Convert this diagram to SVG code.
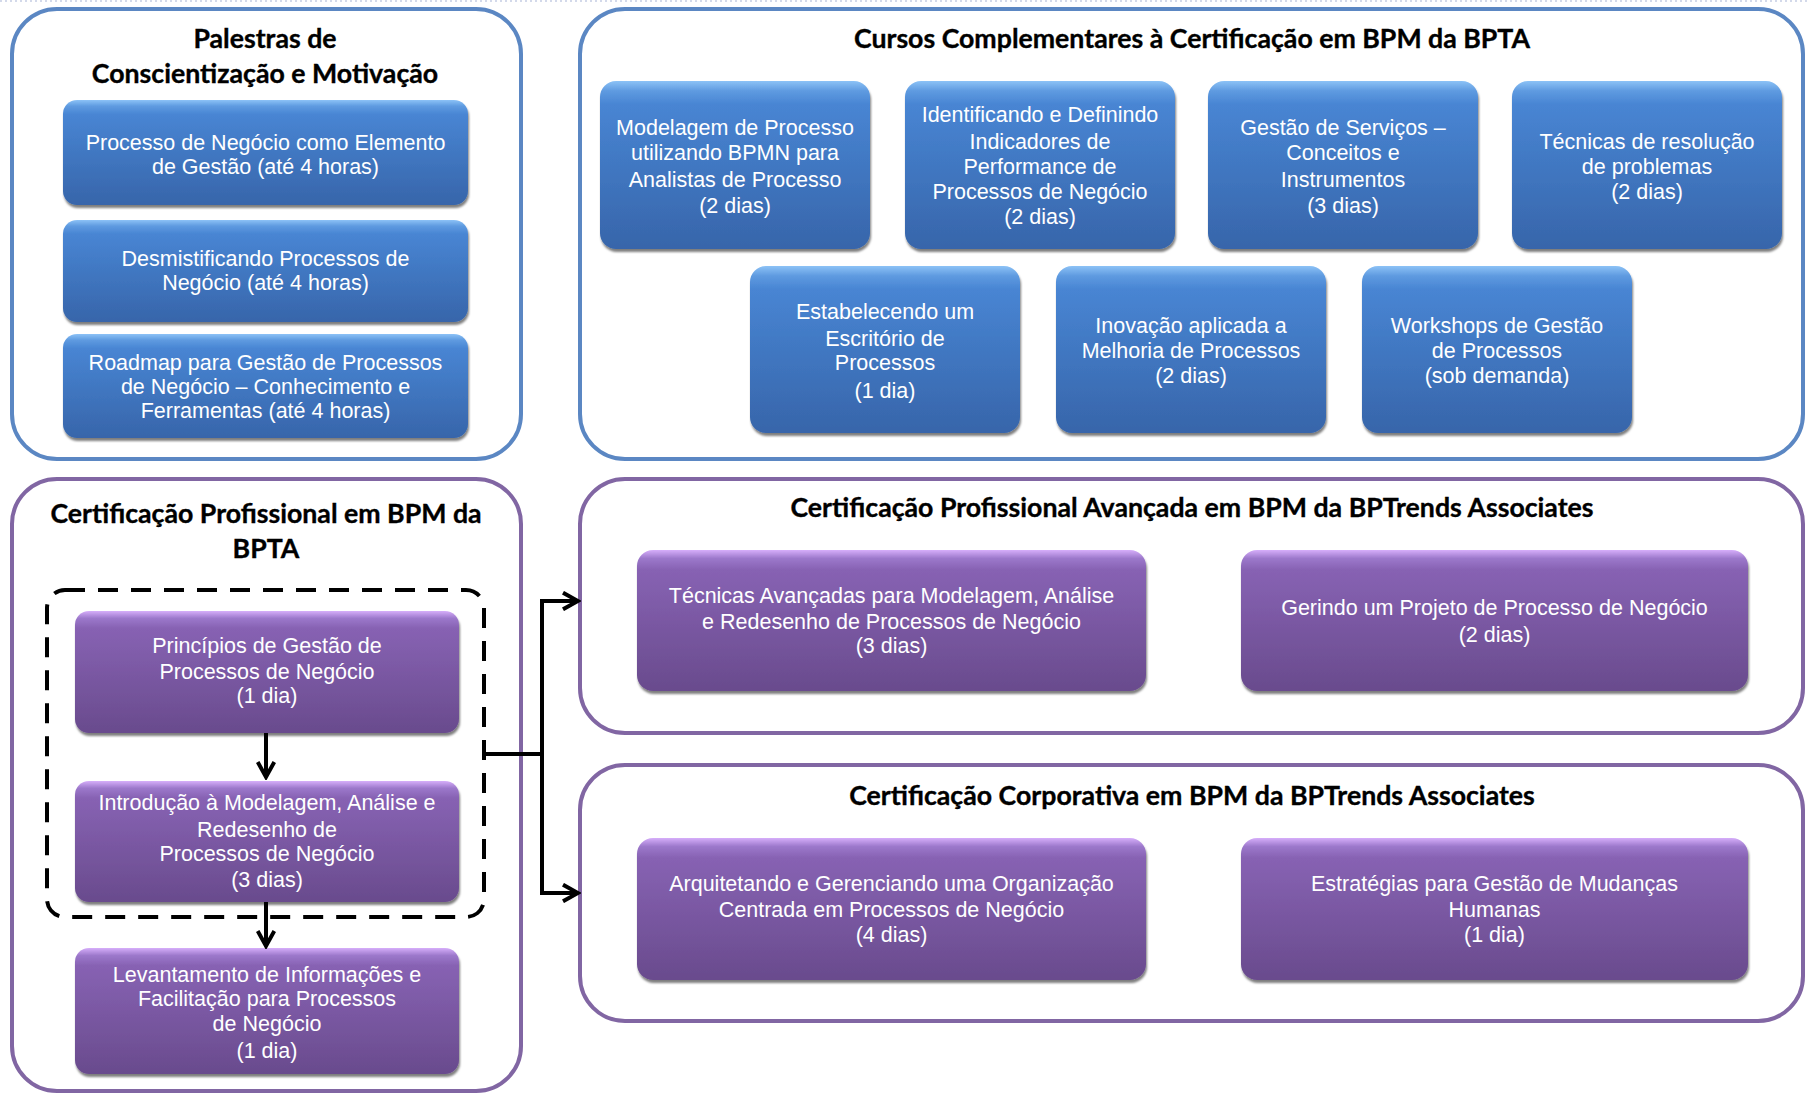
<svg xmlns="http://www.w3.org/2000/svg" width="1807" height="1096" viewBox="0 0 1807 1096">
<defs>
<linearGradient id="gB" x1="0" y1="0" x2="0" y2="1">
<stop offset="0" stop-color="#8cc2f6"/>
<stop offset="0.06" stop-color="#5e9ae0"/>
<stop offset="0.14" stop-color="#4885d3"/>
<stop offset="1" stop-color="#3765aa"/>
</linearGradient>
<linearGradient id="gP" x1="0" y1="0" x2="0" y2="1">
<stop offset="0" stop-color="#d6aefa"/>
<stop offset="0.06" stop-color="#9c78cb"/>
<stop offset="0.14" stop-color="#8762b3"/>
<stop offset="1" stop-color="#694b8d"/>
</linearGradient>
<filter id="sh" x="-5%" y="-5%" width="110%" height="120%">
<feDropShadow dx="1" dy="3" stdDeviation="1.2" flood-color="#000" flood-opacity="0.5"/>
</filter>
<marker id="arr" viewBox="0 0 12 12" refX="10.5" refY="6" markerWidth="20" markerHeight="20" orient="auto" markerUnits="userSpaceOnUse">
<path d="M1.5,1 L10.5,6 L1.5,11" fill="none" stroke="#000" stroke-width="2.4"/>
</marker>
</defs>
<style>
.ob{fill:#fff;stroke:#5b87c3;stroke-width:4}
.op{fill:#fff;stroke:#8166a3;stroke-width:4}
.bb{fill:url(#gB);filter:url(#sh)}
.pb{fill:url(#gP);filter:url(#sh)}
.ti{font-family:Lato,"Open Sans",sans-serif;font-weight:700;font-size:26.7px;fill:#000;stroke:#000;stroke-width:0.35;text-anchor:middle}
.tx{font-family:"Liberation Sans",Arial,sans-serif;font-size:21.5px;fill:#fff;text-anchor:middle}
.cn{fill:none;stroke:#000;stroke-width:4}
</style>
<line x1="0" y1="1" x2="1807" y2="1" stroke="#c5cde3" stroke-width="1.5" stroke-dasharray="2 3"/>

<g id="palestras">
<rect class="ob" x="12" y="9" width="509" height="450" rx="45"/>
<text class="ti" x="265" y="48">Palestras de</text>
<text class="ti" x="265" y="83">Conscientização e Motivação</text>
</g>
<g id="p1"><rect class="bb" x="63" y="100" width="405" height="105" rx="14"/>
<text class="tx" x="265.5" y="150">Processo de Negócio como Elemento</text>
<text class="tx" x="265.5" y="174">de Gestão (até 4 horas)</text></g>
<g id="p2"><rect class="bb" x="63" y="220" width="405" height="102" rx="14"/>
<text class="tx" x="265.5" y="266">Desmistificando Processos de</text>
<text class="tx" x="265.5" y="290">Negócio (até 4 horas)</text></g>
<g id="p3"><rect class="bb" x="63" y="334" width="405" height="104" rx="14"/>
<text class="tx" x="265.5" y="370">Roadmap para Gestão de Processos</text>
<text class="tx" x="265.5" y="394">de Negócio – Conhecimento e</text>
<text class="tx" x="265.5" y="418">Ferramentas (até 4 horas)</text></g>

<g id="cursos">
<rect class="ob" x="580" y="9" width="1223" height="450" rx="45"/>
<text class="ti" x="1192" y="48">Cursos Complementares à Certificação em BPM da BPTA</text>
</g>
<g id="c1"><rect class="bb" x="600" y="81" width="270" height="168" rx="16"/>
<text class="tx" x="735" y="135">Modelagem de Processo</text>
<text class="tx" x="735" y="160">utilizando BPMN para</text>
<text class="tx" x="735" y="187">Analistas de Processo</text>
<text class="tx" x="735" y="213">(2 dias)</text></g>
<g id="c2"><rect class="bb" x="905" y="81" width="270" height="168" rx="16"/>
<text class="tx" x="1040" y="122">Identificando e Definindo</text>
<text class="tx" x="1040" y="149">Indicadores de</text>
<text class="tx" x="1040" y="174">Performance de</text>
<text class="tx" x="1040" y="199">Processos de Negócio</text>
<text class="tx" x="1040" y="224">(2 dias)</text></g>
<g id="c3"><rect class="bb" x="1208" y="81" width="270" height="168" rx="16"/>
<text class="tx" x="1343" y="135">Gestão de Serviços –</text>
<text class="tx" x="1343" y="160">Conceitos e</text>
<text class="tx" x="1343" y="187">Instrumentos</text>
<text class="tx" x="1343" y="213">(3 dias)</text></g>
<g id="c4"><rect class="bb" x="1512" y="81" width="270" height="168" rx="16"/>
<text class="tx" x="1647" y="149">Técnicas de resolução</text>
<text class="tx" x="1647" y="174">de problemas</text>
<text class="tx" x="1647" y="199">(2 dias)</text></g>
<g id="c5"><rect class="bb" x="750" y="266" width="270" height="167" rx="16"/>
<text class="tx" x="885" y="319">Estabelecendo um</text>
<text class="tx" x="885" y="346">Escritório de</text>
<text class="tx" x="885" y="370">Processos</text>
<text class="tx" x="885" y="398">(1 dia)</text></g>
<g id="c6"><rect class="bb" x="1056" y="266" width="270" height="167" rx="16"/>
<text class="tx" x="1191" y="333">Inovação aplicada a</text>
<text class="tx" x="1191" y="358">Melhoria de Processos</text>
<text class="tx" x="1191" y="383">(2 dias)</text></g>
<g id="c7"><rect class="bb" x="1362" y="266" width="270" height="167" rx="16"/>
<text class="tx" x="1497" y="333">Workshops de Gestão</text>
<text class="tx" x="1497" y="358">de Processos</text>
<text class="tx" x="1497" y="383">(sob demanda)</text></g>

<g id="certprof">
<rect class="op" x="12" y="479" width="509" height="612" rx="45"/>
<text class="ti" x="266" y="523">Certificação Profissional em BPM da</text>
<text class="ti" x="266" y="558">BPTA</text>
<rect x="47" y="590" width="437" height="327" rx="18" fill="none" stroke="#000" stroke-width="4" stroke-dasharray="20 13"/>
</g>
<g id="f1"><rect class="pb" x="75" y="611" width="384" height="122" rx="14"/>
<text class="tx" x="267" y="653">Princípios de Gestão de</text>
<text class="tx" x="267" y="679">Processos de Negócio</text>
<text class="tx" x="267" y="703">(1 dia)</text></g>
<g id="f2"><rect class="pb" x="75" y="781" width="384" height="121" rx="14"/>
<text class="tx" x="267" y="810">Introdução à Modelagem, Análise e</text>
<text class="tx" x="267" y="837">Redesenho de</text>
<text class="tx" x="267" y="861">Processos de Negócio</text>
<text class="tx" x="267" y="887">(3 dias)</text></g>
<g id="f3"><rect class="pb" x="75" y="948" width="384" height="126" rx="14"/>
<text class="tx" x="267" y="982">Levantamento de Informações e</text>
<text class="tx" x="267" y="1006">Facilitação para Processos</text>
<text class="tx" x="267" y="1031">de Negócio</text>
<text class="tx" x="267" y="1058">(1 dia)</text></g>

<g id="avancada">
<rect class="op" x="580" y="479" width="1223" height="254" rx="45"/>
<text class="ti" x="1192" y="517">Certificação Profissional Avançada em BPM da BPTrends Associates</text>
</g>
<g id="a1"><rect class="pb" x="637" y="550" width="509" height="141" rx="16"/>
<text class="tx" x="891.5" y="603">Técnicas Avançadas para Modelagem, Análise</text>
<text class="tx" x="891.5" y="629">e Redesenho de Processos de Negócio</text>
<text class="tx" x="891.5" y="653">(3 dias)</text></g>
<g id="a2"><rect class="pb" x="1241" y="550" width="507" height="141" rx="16"/>
<text class="tx" x="1494.5" y="615">Gerindo um Projeto de Processo de Negócio</text>
<text class="tx" x="1494.5" y="642">(2 dias)</text></g>

<g id="corporativa">
<rect class="op" x="580" y="765" width="1223" height="256" rx="45"/>
<text class="ti" x="1192" y="805">Certificação Corporativa em BPM da BPTrends Associates</text>
</g>
<g id="k1"><rect class="pb" x="637" y="838" width="509" height="142" rx="16"/>
<text class="tx" x="891.5" y="891">Arquitetando e Gerenciando uma Organização</text>
<text class="tx" x="891.5" y="917">Centrada em Processos de Negócio</text>
<text class="tx" x="891.5" y="942">(4 dias)</text></g>
<g id="k2"><rect class="pb" x="1241" y="838" width="507" height="142" rx="16"/>
<text class="tx" x="1494.5" y="891">Estratégias para Gestão de Mudanças</text>
<text class="tx" x="1494.5" y="917">Humanas</text>
<text class="tx" x="1494.5" y="942">(1 dia)</text></g>

<g id="connectors">
<path class="cn" d="M266,733 V777" marker-end="url(#arr)"/>
<path class="cn" d="M266,902 V946" marker-end="url(#arr)"/>
<path class="cn" d="M484,754 H542 M542,601 V893"/>
<path class="cn" d="M540,601 H578" marker-end="url(#arr)"/>
<path class="cn" d="M540,893 H578" marker-end="url(#arr)"/>
</g>
</svg>
